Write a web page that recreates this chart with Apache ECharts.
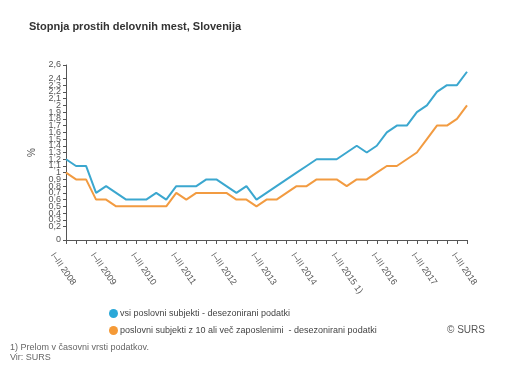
<!DOCTYPE html>
<html>
<head>
<meta charset="utf-8">
<script src="https://cdn.jsdelivr.net/npm/echarts@6/dist/echarts.min.js"></script>
<style>
html,body{margin:0;padding:0;background:#fff;}
#c{width:514px;height:381px;}
</style>
</head>
<body>
<div id="c"></div>
<script>
const years = [2008,2009,2010,2011,2012,2013,2014,2015,2016,2017,2018];
const quarterNames = ['I–III','IV–VI','VII–IX','X–XII'];
const categories = [];
years.forEach(function(y){
  quarterNames.forEach(function(q, i){
    if (y === 2018 && i > 0) return;
    categories.push(q + ' ' + y + (y === 2015 && i === 0 ? ' 1)' : ''));
  });
});
const allSubjects = [1.2,1.1,1.1,0.7,0.8,0.7,0.6,0.6,0.6,0.7,0.6,0.8,0.8,0.8,0.9,0.9,0.8,0.7,0.8,0.6,
  0.7,0.8,0.9,1.0,1.1,1.2,1.2,1.2,1.3,1.4,1.3,1.4,1.6,1.7,1.7,1.9,2.0,2.2,2.3,2.3,2.5];
const subjects10plus = [1.0,0.9,0.9,0.6,0.6,0.5,0.5,0.5,0.5,0.5,0.5,0.7,0.6,0.7,0.7,0.7,0.7,0.6,0.6,0.5,
  0.6,0.6,0.7,0.8,0.8,0.9,0.9,0.9,0.8,0.9,0.9,1.0,1.1,1.1,1.2,1.3,1.5,1.7,1.7,1.8,2.0];
const seriesNames = ['vsi poslovni subjekti - desezonirani podatki',
  'poslovni subjekti z 10 ali več zaposlenimi  - desezonirani podatki'];

const chart = echarts.init(document.getElementById('c'));
chart.setOption({
  animation: false,
  backgroundColor: '#fff',
  textStyle: { fontFamily: 'Liberation Sans, Arial, sans-serif' },
  title: {
    text: 'Stopnja prostih delovnih mest, Slovenija',
    left: 24, top: 16,
    textStyle: { fontSize: 11, fontWeight: 'bold', color: '#333', fontFamily: 'Liberation Sans, Arial, sans-serif' }
  },
  grid: { left: 66, right: 47, top: 65, bottom: 141, containLabel: false },
  legend: {
    orient: 'vertical', left: 104, top: 304,
    itemGap: 8, itemWidth: 9, itemHeight: 9, icon: 'circle',
    textStyle: { fontSize: 9, color: '#444', padding: [0,0,0,-3] },
    data: seriesNames
  },
  xAxis: {
    type: 'category', data: categories, boundaryGap: false,
    axisLine: { lineStyle: { color: '#555', width: 1 } },
    axisTick: { interval: 0, length: 4, lineStyle: { color: '#555' } },
    axisLabel: { interval: 3, rotate: -55, fontSize: 9, color: '#555', margin: 4,
      align: 'left', verticalAlign: 'top', padding: [12,0,0,0] },
    splitLine: { show: false }
  },
  yAxis: {
    type: 'value', min: 0, max: 2.6, interval: 0.1,
    name: '%', nameLocation: 'middle', nameGap: 28,
    nameTextStyle: { fontSize: 10, color: '#555' },
    axisLine: { show: true, lineStyle: { color: '#555', width: 1 } },
    axisTick: { show: true, length: 3, lineStyle: { color: '#555' } },
    axisLabel: { fontSize: 9, color: '#555', margin: 5, showMinLabel: true, showMaxLabel: true,
      formatter: function(v){ return String(Math.round(v*10)/10).replace('.', ','); } },
    splitLine: { show: false }
  },
  series: [
    { name: seriesNames[0], type: 'line', data: allSubjects, symbol: 'none',
      itemStyle: { color: '#2aa8d8' }, lineStyle: { color: '#3ba7cf', width: 2 } },
    { name: seriesNames[1], type: 'line', data: subjects10plus, symbol: 'none',
      itemStyle: { color: '#f59a37' }, lineStyle: { color: '#f29b41', width: 2 } }
  ],
  graphic: [
    { type: 'text', left: 447, top: 325, style: { text: '© SURS', fontSize: 10, fill: '#555', fontFamily: 'Liberation Sans, Arial, sans-serif' } },
    { type: 'text', left: 10, top: 343, style: { text: '1) Prelom v časovni vrsti podatkov.', fontSize: 9, fill: '#666', fontFamily: 'Liberation Sans, Arial, sans-serif' } },
    { type: 'text', left: 10, top: 353, style: { text: 'Vir: SURS', fontSize: 9, fill: '#666', fontFamily: 'Liberation Sans, Arial, sans-serif' } }
  ]
});
</script>
</body>
</html>
